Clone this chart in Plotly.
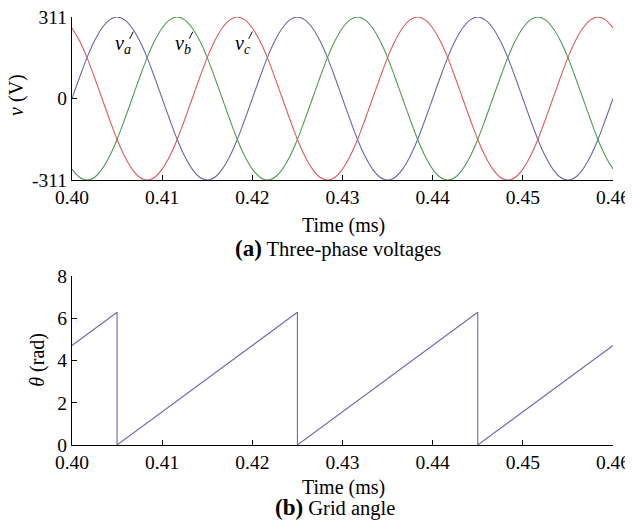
import plotly.graph_objects as go

# ---------------- data ----------------
# sample times (s), 15-degree steps of a 50 Hz period, 0.40 .. 0.46
TIME = [round(0.40 + k / 1200, 6) for k in range(73)]

VA = [0, 80, 156, 220, 269, 300, 311, 300, 269, 220, 156, 80, 0, -80, -156, -220, -269, -300, -311, -300, -269, -220, -156, -80,
      0, 80, 156, 220, 269, 300, 311, 300, 269, 220, 156, 80, 0, -80, -156, -220, -269, -300, -311, -300, -269, -220, -156, -80,
      0, 80, 156, 220, 269, 300, 311, 300, 269, 220, 156, 80, 0, -80, -156, -220, -269, -300, -311, -300, -269, -220, -156, -80,
      0]
VB = [-269, -300, -311, -300, -269, -220, -156, -80, 0, 80, 156, 220, 269, 300, 311, 300, 269, 220, 156, 80, 0, -80, -156, -220,
      -269, -300, -311, -300, -269, -220, -156, -80, 0, 80, 156, 220, 269, 300, 311, 300, 269, 220, 156, 80, 0, -80, -156, -220,
      -269, -300, -311, -300, -269, -220, -156, -80, 0, 80, 156, 220, 269, 300, 311, 300, 269, 220, 156, 80, 0, -80, -156, -220,
      -269]
VC = [269, 220, 156, 80, 0, -80, -156, -220, -269, -300, -311, -300, -269, -220, -156, -80, 0, 80, 156, 220, 269, 300, 311, 300,
      269, 220, 156, 80, 0, -80, -156, -220, -269, -300, -311, -300, -269, -220, -156, -80, 0, 80, 156, 220, 269, 300, 311, 300,
      269, 220, 156, 80, 0, -80, -156, -220, -269, -300, -311, -300, -269, -220, -156, -80, 0, 80, 156, 220, 269, 300, 311, 300,
      269]

THETA_T = [0.40, 0.405, 0.405, 0.425, 0.425, 0.445, 0.445, 0.46]
THETA = [4.71, 6.28, 0, 6.28, 0, 6.28, 0, 4.71]

X_TICKS = [0.40, 0.41, 0.42, 0.43, 0.44, 0.45, 0.46]
X_TICK_LABELS = ["0.40", "0.41", "0.42", "0.43", "0.44", "0.45", "0.46"]
V_TICKS = [-311, 0, 311]
V_TICK_LABELS = ["-311", "0", "311"]
TH_TICKS = [0, 2, 4, 6, 8]

# ---------------- style ----------------
FONT = "Liberation Serif"
BLUE = "#6666b0"
GREEN = "#4f9c4f"
RED = "#de5a5a"
SAW = "#6a6ab4"

fig = go.Figure()
for name, vals, col in [("va", VA, BLUE), ("vb", VB, GREEN), ("vc", VC, RED)]:
    fig.add_trace(go.Scatter(x=TIME, y=vals, mode="lines", name=name,
                             line=dict(color=col, width=1.1, shape="spline"),
                             xaxis="x", yaxis="y", showlegend=False))
fig.add_trace(go.Scatter(x=THETA_T, y=THETA, mode="lines", line=dict(color=SAW, width=1.1),
                         xaxis="x2", yaxis="y2", showlegend=False))

axis_common = dict(showline=True, linecolor="black", linewidth=1, ticks="inside",
                   ticklen=5, tickcolor="black", showgrid=False, zeroline=False,
                   mirror=False, automargin=False, ticklabeloverflow="allow",
                   tickfont=dict(family=FONT, size=19.5, color="black"))

# the page places the figure 8px in from the top-left corner
fig.update_layout(
    template="none",
    width=625, height=517,
    margin=dict(l=64, r=20, t=9, b=80, autoexpand=False),
    paper_bgcolor="white", plot_bgcolor="white",
    font=dict(family=FONT, color="black"),
    xaxis=dict(domain=[0, 1], anchor="y", range=[0.40, 0.46], tickvals=X_TICKS,
               ticktext=X_TICK_LABELS, **axis_common),
    yaxis=dict(domain=[0.619, 1.0], anchor="x", range=[-311, 311], tickvals=V_TICKS,
               ticktext=V_TICK_LABELS, **axis_common),
    xaxis2=dict(domain=[0, 1], anchor="y2", range=[0.40, 0.46], tickvals=X_TICKS,
                ticktext=X_TICK_LABELS, **axis_common),
    yaxis2=dict(domain=[0, 0.395], anchor="x2", range=[0, 8], tickvals=TH_TICKS, **axis_common),
)

C = dict(xref="paper", yref="paper", showarrow=False, xanchor="center", yanchor="middle")
ann = []
ann.append(dict(text="Time (ms)", x=0.502, y=0.512, font=dict(family=FONT, size=20), **C))
ann.append(dict(text="<span style='font-size:23px'><b>(a)</b></span> Three-phase voltages",
                x=0.492, y=0.459, font=dict(family=FONT, size=20.5), **C))
ann.append(dict(text="Time (ms)", x=0.502, y=-0.100, font=dict(family=FONT, size=20), **C))
ann.append(dict(text="<span style='font-size:23px'><b>(b)</b></span> Grid angle",
                x=0.486, y=-0.147, font=dict(family=FONT, size=20.5), **C))
ann.append(dict(text="<i>v</i> (V)", x=-0.1017, y=0.818, textangle=-90,
                font=dict(family=FONT, size=20), **C))
ann.append(dict(text="<i>θ</i> (rad)", x=-0.063, y=0.199, textangle=-90,
                font=dict(family=FONT, size=20), **C))

# phase labels with short leader lines
labels = [("<i>v</i><sub><i>a</i></sub>", 0.4057, 0.4064, 0.4068),
          ("<i>v</i><sub><i>b</i></sub>", 0.4123, 0.4130, 0.4134),
          ("<i>v</i><sub><i>c</i></sub>", 0.4190, 0.4196, 0.4200)]
shapes = []
for txt, xt, x0, x1 in labels:
    ann.append(dict(text=txt, x=xt, y=205, xref="x", yref="y", showarrow=False,
                    xanchor="center", yanchor="middle", font=dict(family=FONT, size=20)))
    shapes.append(dict(type="line", xref="x", yref="y", x0=x0, y0=228, x1=x1, y1=255,
                       line=dict(color="black", width=1)))

fig.update_layout(annotations=ann, shapes=shapes)
fig.write_html("out.html")
